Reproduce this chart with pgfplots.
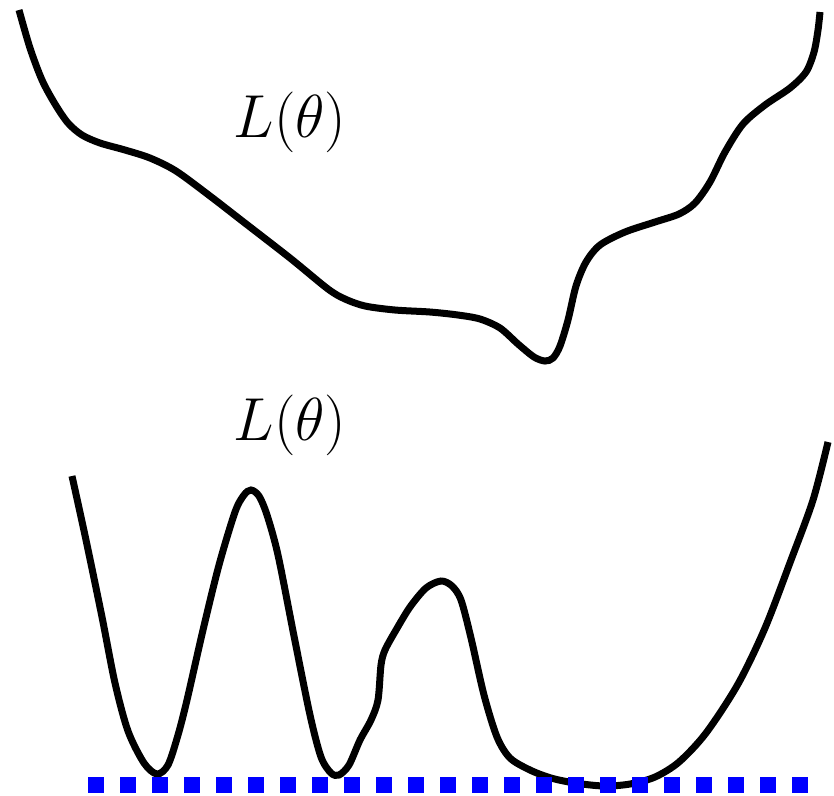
\documentclass[border=0pt]{standalone}
\usepackage{pgfplots}
\pgfplotsset{compat=1.18}

% Loss landscapes: an irregular valley (top) and a multi-minimum curve (bottom)
\pgfplotstableread{
x y
19 10
30 48
42 80
55 104
68 123
82 135
100 143
125 150
150 158
176 171
210 196
241 220
290 258
328 289
345 299
365 306
395 310
430 312
458 315
480 319
500 328
518 344
534 357
545 361
553 358
560 346
568 320
576 286
586 262
600 245
625 232
655 222
679 214
695 203
710 182
725 152
743 124
765 105
790 88
806 72
814 52
818 30
820 12
}\topcurve

\pgfplotstableread{
x y
72 476
86 540
102 617
115 683
128 731
144 763
157 774
168 765
178 735
187 700
203 630
219 565
235 512
244 495
251 490
259 496
267 515
278 555
294 636
310 715
321 757
331 773
339 775
349 765
360 740
371 720
378 700
381 665
385 650
396 630
410 607
426 588
441 581
452 586
461 600
471 638
484 695
497 737
510 758
530 770
551 778
575 783
604 786
630 784
655 777
679 762
706 733
738 684
765 628
791 560
813 500
828 442
}\bottomcurve

\begin{document}
\begin{tikzpicture}
\begin{axis}[
  width=8.34cm, height=7.95cm, scale only axis,
  xmin=0, xmax=834, ymin=0, ymax=795,
  y dir=reverse,
  hide axis, clip=false,
]
\addplot[black, line width=0.07cm, smooth, tension=0.5] table[x=x, y=y] {\topcurve};
\addplot[black, line width=0.07cm, smooth, tension=0.5] table[x=x, y=y] {\bottomcurve};
\addplot[color={rgb,255:red,0;green,0;blue,255}, line width=0.16cm,
  dash pattern=on 0.16cm off 0.16cm] coordinates {(88,785) (808,785)};
\node[anchor=base, font=\fontsize{16.5}{20}\selectfont] at (axis cs:290,137) {$L(\theta)$};
\node[anchor=base, font=\fontsize{16.5}{20}\selectfont] at (axis cs:290,440) {$L(\theta)$};
\end{axis}
\pgfresetboundingbox
\useasboundingbox (current axis.south west) rectangle (current axis.north east);
\end{tikzpicture}
\end{document}
